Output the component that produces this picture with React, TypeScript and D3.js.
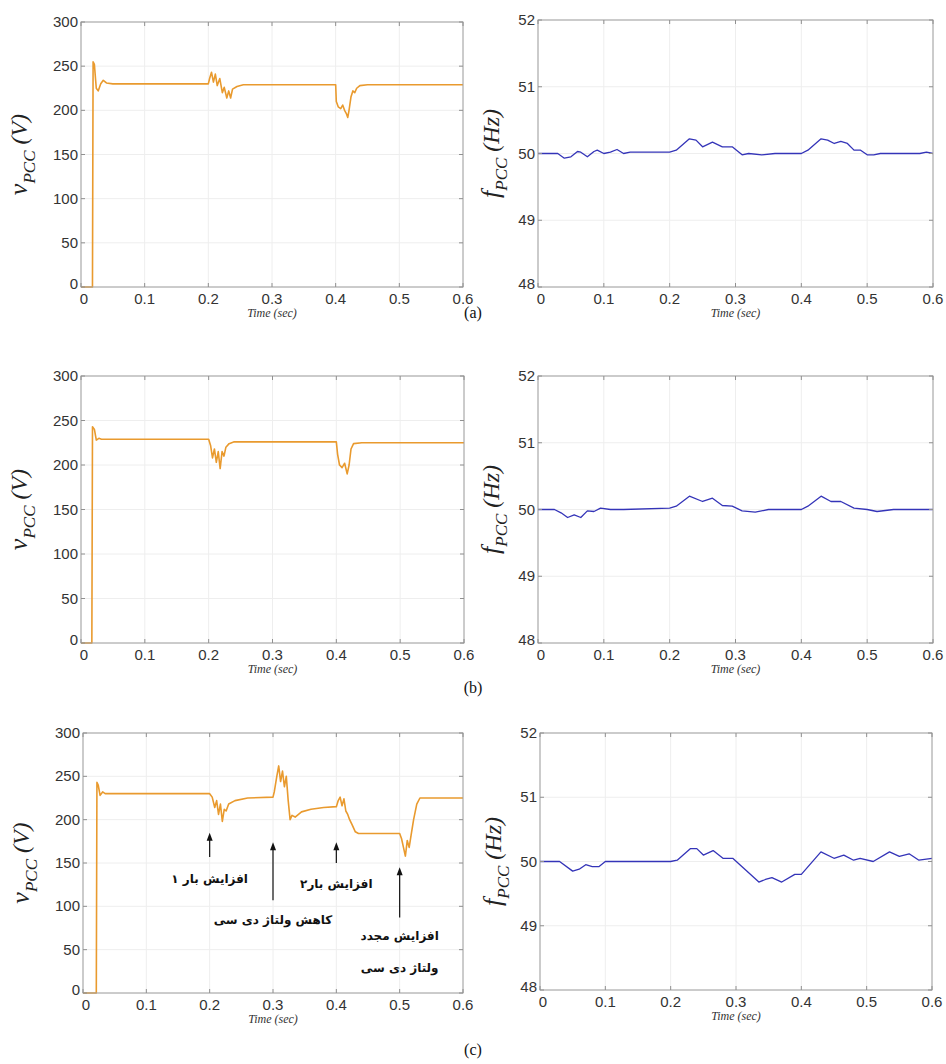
import React from 'react';
import * as d3 from 'd3';

// time ticks (sec) and y ticks
const timeTicks = [0, 0.1, 0.2, 0.3, 0.4, 0.5, 0.6];
const voltTicks = [0, 50, 100, 150, 200, 250, 300];
const freqTicks = [48, 49, 50, 51, 52];

// [time, voltage]
const vpccA: [number, number][] = [
  [0, 0], [0.018, 0], [0.019, 255], [0.021, 252], [0.024, 225], [0.027, 222], [0.031, 230], [0.035, 234],
  [0.04, 231], [0.05, 230], [0.2, 230], [0.202, 236], [0.205, 243], [0.208, 232], [0.211, 241], [0.214, 228],
  [0.218, 236], [0.222, 220], [0.225, 226], [0.229, 214], [0.232, 222], [0.235, 214], [0.238, 224], [0.245, 227],
  [0.255, 229], [0.4, 229], [0.401, 210], [0.404, 204], [0.408, 202], [0.411, 206], [0.414, 200], [0.417, 196],
  [0.419, 192], [0.421, 200], [0.424, 215], [0.427, 222], [0.43, 220], [0.433, 225], [0.438, 228], [0.45, 229],
  [0.6, 229],
];
const vpccB: [number, number][] = [
  [0, 0], [0.017, 0], [0.018, 243], [0.021, 240], [0.024, 228], [0.028, 230], [0.032, 229], [0.2, 229],
  [0.203, 222], [0.206, 208], [0.209, 218], [0.212, 203], [0.215, 215], [0.218, 196], [0.221, 215], [0.224, 210],
  [0.227, 220], [0.232, 224], [0.24, 226], [0.4, 226], [0.402, 212], [0.405, 200], [0.409, 197], [0.413, 202],
  [0.417, 190], [0.42, 200], [0.423, 218], [0.427, 224], [0.44, 225], [0.6, 225],
];
const vpccC: [number, number][] = [
  [0, 0], [0.021, 0], [0.022, 243], [0.024, 240], [0.027, 228], [0.031, 232], [0.035, 230], [0.2, 230],
  [0.204, 226], [0.208, 214], [0.211, 222], [0.214, 206], [0.217, 218], [0.22, 198], [0.223, 212], [0.226, 210],
  [0.23, 218], [0.24, 222], [0.26, 225], [0.3, 226], [0.302, 232], [0.306, 250], [0.309, 262], [0.312, 244],
  [0.315, 256], [0.318, 238], [0.321, 250], [0.324, 222], [0.327, 200], [0.33, 205], [0.335, 203], [0.345, 209],
  [0.36, 212], [0.38, 214], [0.4, 215], [0.403, 222], [0.406, 226], [0.409, 216], [0.412, 224], [0.415, 210],
  [0.418, 206], [0.421, 200], [0.425, 194], [0.43, 186], [0.435, 184], [0.5, 184], [0.503, 178], [0.506, 168],
  [0.509, 158], [0.512, 176], [0.515, 168], [0.518, 182], [0.522, 200], [0.527, 218], [0.532, 225], [0.6, 225],
];

// [time, frequency]
const fpccA: [number, number][] = [
  [0, 50], [0.03, 50], [0.04, 49.93], [0.05, 49.95], [0.06, 50.03], [0.065, 50.02], [0.075, 49.95], [0.085, 50.03],
  [0.09, 50.05], [0.1, 50.0], [0.11, 50.02], [0.12, 50.06], [0.13, 50.0], [0.14, 50.02], [0.16, 50.02], [0.2, 50.02],
  [0.21, 50.05], [0.23, 50.22], [0.24, 50.2], [0.25, 50.1], [0.265, 50.17], [0.28, 50.1], [0.295, 50.1], [0.31, 49.98],
  [0.32, 50.0], [0.34, 49.98], [0.36, 50.0], [0.4, 50.0], [0.41, 50.05], [0.43, 50.22], [0.44, 50.2], [0.45, 50.15],
  [0.46, 50.18], [0.47, 50.15], [0.48, 50.05], [0.49, 50.05], [0.5, 49.98], [0.51, 49.98], [0.52, 50.0], [0.58, 50.0],
  [0.59, 50.02], [0.6, 50.0],
];
const fpccB: [number, number][] = [
  [0, 50], [0.025, 50], [0.035, 49.95], [0.045, 49.88], [0.055, 49.92], [0.065, 49.88], [0.075, 49.98], [0.085, 49.97],
  [0.095, 50.02], [0.11, 50.0], [0.13, 50.0], [0.2, 50.02], [0.21, 50.05], [0.23, 50.2], [0.25, 50.12], [0.265, 50.17],
  [0.28, 50.06], [0.295, 50.05], [0.31, 49.98], [0.33, 49.96], [0.35, 50.0], [0.4, 50.0], [0.41, 50.05], [0.43, 50.2],
  [0.445, 50.12], [0.46, 50.12], [0.48, 50.02], [0.5, 50.0], [0.515, 49.97], [0.54, 50.0], [0.6, 50.0],
];
const fpccC: [number, number][] = [
  [0, 50], [0.03, 50], [0.05, 49.85], [0.06, 49.88], [0.07, 49.95], [0.08, 49.92], [0.09, 49.92], [0.1, 50.0],
  [0.12, 50.0], [0.2, 50.0], [0.21, 50.02], [0.23, 50.2], [0.24, 50.2], [0.25, 50.1], [0.265, 50.17], [0.28, 50.05],
  [0.295, 50.05], [0.335, 49.68], [0.345, 49.72], [0.355, 49.75], [0.37, 49.68], [0.39, 49.8], [0.4, 49.8],
  [0.43, 50.15], [0.45, 50.05], [0.465, 50.1], [0.48, 50.02], [0.49, 50.05], [0.51, 50.0], [0.535, 50.15],
  [0.55, 50.08], [0.565, 50.12], [0.58, 50.02], [0.6, 50.05],
];

// annotations in panel (c): time, arrow head value, arrow tail value, text lines
const eventTimes = [0.2, 0.3, 0.4, 0.5];
const eventLabels = [['افزایش بار ۱'], ['کاهش ولتاژ دی سی'], ['افزایش بار۲'], ['افزایش مجدد', 'ولتاژ دی سی']];
const arrowHeads = [185, 174, 174, 145];
const arrowTails = [157, 107, 150, 87];
const labelValues = [[132], [84], [126], [66, 29]];

const ORANGE = '#e99a2e';
const BLUE = '#3434b8';
const tickFont = '"Liberation Sans", Arial, sans-serif';
const serif = '"Liberation Serif", "Times New Roman", serif';

type Box = { x0: number; x1: number; y0: number; y1: number };

function Panel({ box, yDomain, yTicks, data, color, kind, notes }: any) {
  const b: Box = box;
  const x = d3.scaleLinear().domain([0, 0.6]).range([b.x0, b.x1]);
  const y = d3.scaleLinear().domain(yDomain).range([b.y1, b.y0]);
  const line = d3.line<[number, number]>().x((d) => x(d[0])).y((d) => y(d[1]));
  const midY = (b.y0 + b.y1) / 2;
  const labX = kind === 'v' ? b.x0 - 54 : b.x0 - 39;

  return (
    <g>
      <rect x={b.x0} y={b.y0} width={b.x1 - b.x0} height={b.y1 - b.y0} fill="#fff" />
      {timeTicks.map((t) => (
        <line key={'gx' + t} x1={x(t)} x2={x(t)} y1={b.y0} y2={b.y1} stroke="#eeeeee" strokeWidth={1} />
      ))}
      {yTicks.map((v: number) => (
        <line key={'gy' + v} x1={b.x0} x2={b.x1} y1={y(v)} y2={y(v)} stroke="#eeeeee" strokeWidth={1} />
      ))}
      <path d={line(data) || ''} fill="none" stroke={color} strokeWidth={kind === 'v' ? 1.6 : 1.3} strokeLinejoin="round" />
      <rect x={b.x0} y={b.y0} width={b.x1 - b.x0} height={b.y1 - b.y0} fill="none" stroke="#a0a0a0" strokeWidth={1} />
      {timeTicks.map((t) => (
        <g key={'tx' + t}>
          <line x1={x(t)} x2={x(t)} y1={b.y1} y2={b.y1 - 4} stroke="#909090" />
          <line x1={x(t)} x2={x(t)} y1={b.y0} y2={b.y0 + 4} stroke="#909090" />
          <text x={x(t) + (t === 0 ? 3 : 0)} y={b.y1 + 17} textAnchor="middle" fontFamily={tickFont} fontSize={15} fill="#333">
            {t === 0 ? '0' : t.toFixed(1)}
          </text>
        </g>
      ))}
      {yTicks.map((v: number) => (
        <g key={'ty' + v}>
          <line x1={b.x0} x2={b.x0 + 4} y1={y(v)} y2={y(v)} stroke="#909090" />
          <line x1={b.x1} x2={b.x1 - 4} y1={y(v)} y2={y(v)} stroke="#909090" />
          <text x={b.x0 - 3} y={y(v) + 5 - (v === yDomain[0] ? 3 : 0)} textAnchor="end" fontFamily={tickFont} fontSize={15} fill="#333">
            {v}
          </text>
        </g>
      ))}
      <text x={(b.x0 + b.x1) / 2} y={b.y1 + 30} textAnchor="middle" fontFamily={serif} fontStyle="italic" fontSize={12} fill="#333">
        Time (sec)
      </text>
      <text transform={`translate(${labX},${midY}) rotate(-90)`} textAnchor="middle" fontFamily={serif} fontStyle="italic" fill="#222">
        <tspan fontSize={26}>{kind === 'v' ? 'v' : 'f'}</tspan>
        <tspan fontSize={17} dy={8} fontFamily={serif}>PCC</tspan>
        <tspan fontSize={24} dy={-8}>{kind === 'v' ? ' (V)' : ' (Hz)'}</tspan>
      </text>
      {notes &&
        eventTimes.map((t, i) => {
          const ax = x(t);
          const hy = y(arrowHeads[i]);
          const ty = y(arrowTails[i]);
          return (
            <g key={'n' + i}>
              <line x1={ax} x2={ax} y1={hy + 6} y2={ty} stroke="#111" strokeWidth={1.2} />
              <path d={`M${ax},${hy} L${ax - 3},${hy + 8} L${ax + 3},${hy + 8} Z`} fill="#111" />
              {eventLabels[i].map((s, j) => (
                <text key={j} x={ax} y={y(labelValues[i][j]) + 4} textAnchor="middle" fontFamily='"DejaVu Sans", sans-serif' fontWeight="bold" fontSize={12} fill="#111">
                  {s}
                </text>
              ))}
            </g>
          );
        })}
    </g>
  );
}

export default function App() {
  const rows = [
    { v: vpccA, f: fpccA, lb: { x0: 81, x1: 463, y0: 22, y1: 287 }, rb: { x0: 538, x1: 933, y0: 20, y1: 287 }, cap: '(a)', capY: 318 },
    { v: vpccB, f: fpccB, lb: { x0: 81, x1: 464, y0: 376, y1: 643 }, rb: { x0: 538, x1: 933, y0: 376, y1: 643 }, cap: '(b)', capY: 693 },
    { v: vpccC, f: fpccC, lb: { x0: 83, x1: 463, y0: 733, y1: 993 }, rb: { x0: 540, x1: 932, y0: 733, y1: 990 }, cap: '(c)', capY: 1055 },
  ];
  return (
    <svg width={946} height={1064} style={{ position: 'absolute', left: 0, top: 0, background: '#fff' }}>
      <rect width={946} height={1064} fill="#fff" />
      {rows.map((r, i) => (
        <g key={i}>
          <Panel box={r.lb} yDomain={[0, 300]} yTicks={voltTicks} data={r.v} color={ORANGE} kind="v" notes={i === 2} />
          <Panel box={r.rb} yDomain={[48, 52]} yTicks={freqTicks} data={r.f} color={BLUE} kind="f" />
          <text x={473} y={r.capY} textAnchor="middle" fontFamily={serif} fontSize={16} fill="#111">
            {r.cap}
          </text>
        </g>
      ))}
    </svg>
  );
}
